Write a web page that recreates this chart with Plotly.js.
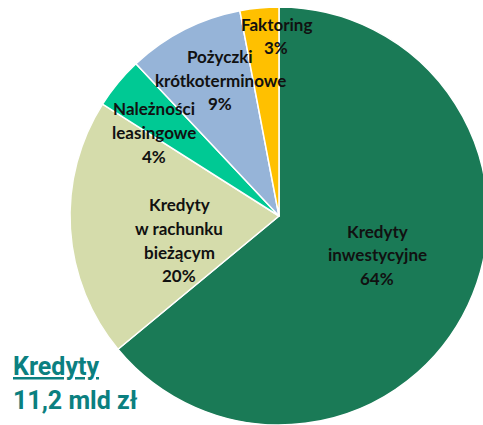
<!DOCTYPE html>
<html>
<head>
<meta charset="utf-8">
<script src="https://cdn.plot.ly/plotly-3.0.1.min.js"></script>
<style>
html,body{margin:0;padding:0;overflow:hidden;background:#fff;width:483px;height:425px;}
#chart{position:absolute;left:0;top:0;width:490px;height:430px;}
</style>
</head>
<body>
<div id="chart"></div>
<script>
const categories = ["Kredyty\ninwestycyjne", "Kredyty\nw rachunku\nbieżącym", "Należności\nleasingowe", "Pożyczki\nkrótkoterminowe", "Faktoring"];
const shares = [64, 20, 4, 9, 3];
const colors = ["#1a7a56", "#d5dcab", "#00c994", "#96b4d8", "#ffc000"];
const totalTitle = "Kredyty";
const totalValue = "11,2 mld zł";

const W = 490, H = 430;
// first-line centre of each label block in pixels (layout only)
const labelPos = [[377, 231], [179, 205], [154, 109], [220, 57], [276, 24]];
const lineGap = 23.5;

const px = x => x / W;
const py = y => 1 - y / H;

const annotations = [];
categories.forEach((c, i) => {
  const lines = c.split("\n").concat([shares[i] + "%"]);
  lines.forEach((ln, k) => {
    annotations.push({
      xref: "paper", yref: "paper",
      x: px(labelPos[i][0]), y: py(labelPos[i][1] + k * lineGap),
      xanchor: "center", yanchor: "middle",
      text: "<b>" + ln + "</b>",
      showarrow: false,
      font: {family: "Lato, 'Open Sans', sans-serif", size: 17, color: "#111"}
    });
  });
});

const bigFont = {family: "Roboto, 'Liberation Sans', sans-serif", size: 25, color: "#0b8080"};
annotations.push({
  xref: "paper", yref: "paper", x: px(11), y: py(366), xanchor: "left", yanchor: "middle",
  text: "<b><u>" + totalTitle + "</u></b>", showarrow: false, font: bigFont
});
annotations.push({
  xref: "paper", yref: "paper", x: px(11), y: py(400), xanchor: "left", yanchor: "middle",
  text: "<b>" + totalValue + "</b>", showarrow: false, font: bigFont
});

const trace = {
  type: "pie",
  labels: categories.map(c => c.replace(/\n/g, " ")),
  values: shares,
  sort: false,
  direction: "clockwise",
  rotation: 0,
  textinfo: "none",
  hoverinfo: "none",
  marker: {colors: colors, line: {color: "#ffffff", width: 1.5}},
  domain: {x: [px(70), px(488)], y: [py(425), py(7)]},
  showlegend: false
};

Plotly.newPlot("chart", [trace], {
  width: W, height: H,
  margin: {l: 0, r: 0, t: 0, b: 0},
  paper_bgcolor: "#fff",
  showlegend: false,
  annotations: annotations
}, {staticPlot: true, displayModeBar: false});
</script>
</body>
</html>
